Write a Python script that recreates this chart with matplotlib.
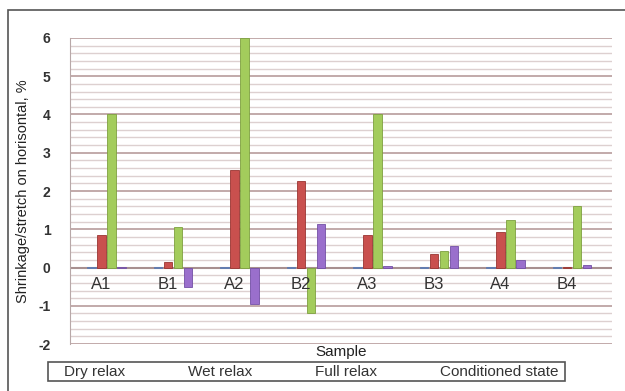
import numpy as np
import matplotlib.pyplot as plt
from matplotlib.patches import Rectangle

plt.rcParams['font.family'] = ['Liberation Sans', 'DejaVu Sans']
plt.rcParams['axes.unicode_minus'] = False

samples = ["A1", "B1", "A2", "B2", "A3", "B3", "A4", "B4"]
series_names = ["Dry relax", "Wet relax", "Full relax", "Conditioned state"]
dry_relax = [0.02, 0.02, 0.02, 0.02, 0.02, 0.02, 0.02, 0.02]
wet_relax = [0.85, 0.15, 2.55, 2.25, 0.85, 0.35, 0.93, 0.02]
full_relax = [4.0, 1.05, 6.0, -1.2, 4.0, 0.42, 1.25, 1.6]
conditioned = [0.02, -0.5, -0.95, 1.15, 0.03, 0.55, 0.2, 0.07]

colors = ["#7f9fd0", "#c9504e", "#a3cc5c", "#9a6fcc"]
edges = ["#5a78b0", "#9a3532", "#7ea040", "#7350a5"]

fig = plt.figure(figsize=(6.25, 3.91), dpi=100)
ax = fig.add_axes([0.112, 0.12, 0.867, 0.783])

x = np.arange(len(samples))
w = 0.13
step = 0.15
data = [dry_relax, wet_relax, full_relax, conditioned]
for i, vals in enumerate(data):
    ax.bar(x + (i - 1.5) * step, vals, width=w, color=colors[i],
           edgecolor=edges[i], linewidth=0.6, label=series_names[i], zorder=3)

# gridlines like the excel 3d floor
for v in np.arange(-2, 6.01, 0.2):
    major = abs(v - round(v)) < 1e-6
    ax.axhline(v, color="#c2aaaa" if major else "#ddd0d0",
               linewidth=1.4 if major else 1.0, zorder=1)
ax.axhline(0, color="#a89090", linewidth=1.5, zorder=2)

for xi, s in zip(x, samples):
    ax.text(xi - 0.08, -0.45, s, ha="center", va="center", fontsize=12,
            color="#333333", zorder=4)

ax.set_xlim(-0.55, 7.6)
ax.set_ylim(-2, 6)
ax.set_xticks([])
ax.set_yticks(range(-2, 7))
ax.tick_params(axis="y", length=0, labelsize=10, colors="#333333", pad=14)
for lab in ax.get_yticklabels():
    lab.set_fontweight("bold")
for sp in ["top", "right", "bottom"]:
    ax.spines[sp].set_visible(False)
ax.spines["left"].set_color("#b8a8a8")
ax.set_ylabel("Shrinkage/stretch on horisontal, %", fontsize=10.5, color="#222222", labelpad=6)
ax.set_xlabel("Sample", fontsize=11, color="#222222", labelpad=1)

handles, labels = ax.get_legend_handles_labels()
leg = fig.legend(handles, labels, ncol=4, mode="expand",
                 bbox_to_anchor=(62 / 625, 10 / 391, 499 / 625, 19 / 391),
                 loc="lower left", handlelength=0, handletextpad=0,
                 borderaxespad=0, borderpad=0.15, fontsize=11, frameon=False)
for h in leg.legend_handles:
    h.set_visible(False)
for t in leg.get_texts():
    t.set_color("#333333")

# legend box and outer frame
fig.patches.append(Rectangle((48 / 625, 10 / 391), 517 / 625, 19 / 391,
                             transform=fig.transFigure, fill=False,
                             edgecolor="#555555", linewidth=1.2))
fig.patches.append(Rectangle((8 / 625, -0.1), 1.2, 1 - 10 / 391 + 0.1,
                             transform=fig.transFigure, fill=False,
                             edgecolor="#555555", linewidth=1.2))

fig.savefig("out.png", dpi=100)
